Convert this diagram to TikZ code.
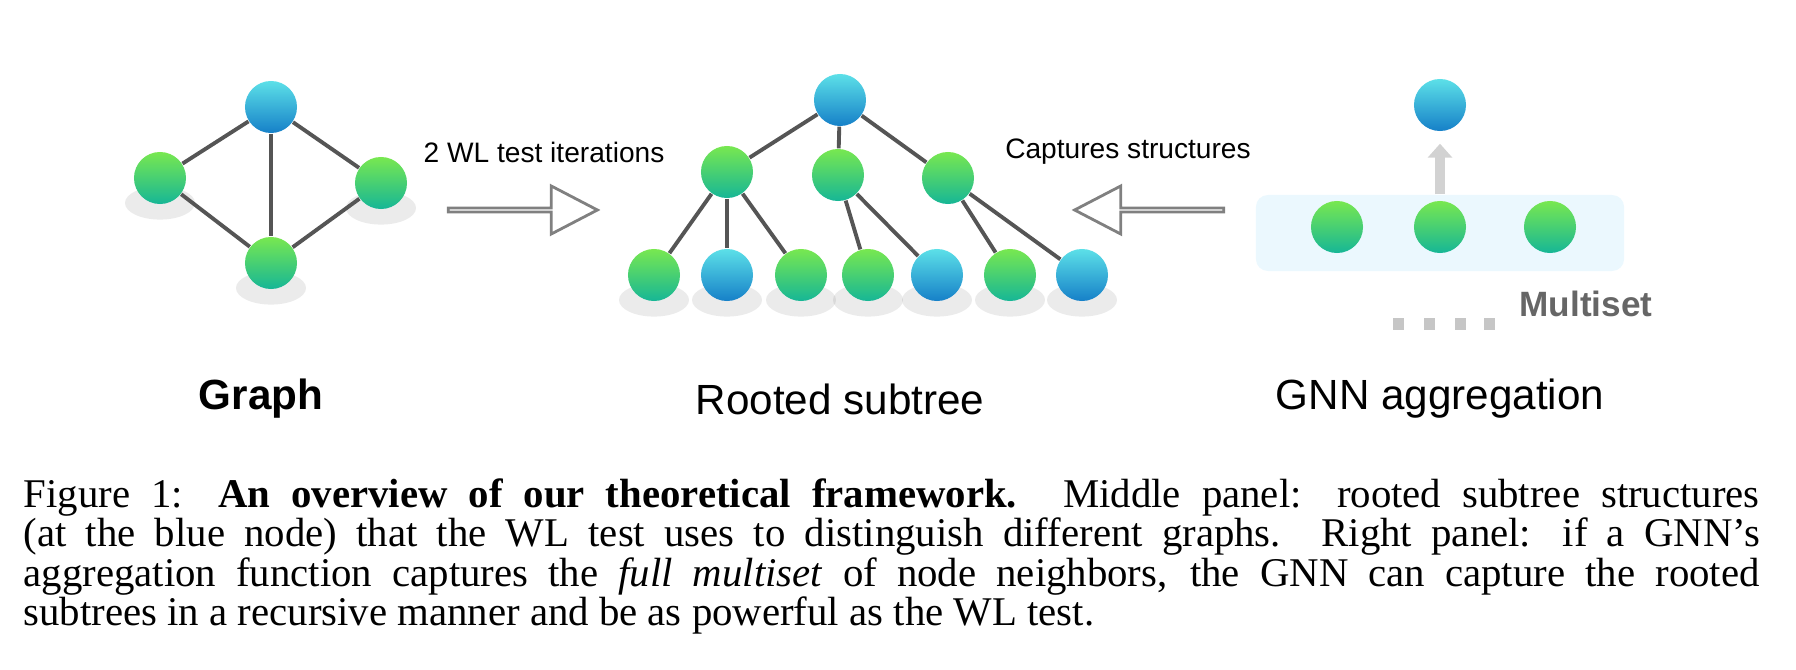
\documentclass[tikz,border=0pt]{standalone}
\usepackage{fontspec}
\setmainfont{Liberation Serif}
\newfontfamily\labelfont{Liberation Sans}
\usetikzlibrary{shapes.arrows, shapes.geometric, arrows.meta}
\definecolor{grtop}{RGB}{120,232,80}
\definecolor{grbot}{RGB}{22,182,150}
\definecolor{bltop}{RGB}{92,224,232}
\definecolor{blbot}{RGB}{22,128,200}
\definecolor{edgegray}{RGB}{85,85,85}
\tikzstyle{gnode} = [circle, minimum size=0.52cm, inner sep=0pt, top color=grtop, bottom color=grbot, draw=none]
\tikzstyle{bnode} = [circle, minimum size=0.52cm, inner sep=0pt, top color=bltop, bottom color=blbot, draw=none]
\tikzstyle{shadow} = [ellipse, minimum width=0.7cm, minimum height=0.08cm, fill=black, opacity=0.08, draw=none]
\tikzstyle{edge} = [edgegray, line width=1.1pt]
\tikzstyle{hollow} = [single arrow, draw=gray, line width=0.8pt, fill=white, minimum height=1.49cm, minimum width=0.48cm, single arrow head extend=0.16cm, single arrow tip angle=55, inner sep=0pt]
\tikzstyle{panel} = [font=\labelfont\fontsize{12pt}{14pt}\selectfont]
\tikzstyle{note} = [font=\labelfont\fontsize{8pt}{10pt}\selectfont]

\begin{document}
\begin{tikzpicture}[x=0.01cm, y=0.01cm]
  \useasboundingbox (0,0) rectangle (1796,-670);
  % soft shadows under the nodes
  \foreach \x/\y in {160/-178, 381/-183, 271/-263, 654/-275, 727/-275, 801/-275, 868/-275, 937/-275, 1010/-275, 1082/-275, 1337/-227, 1440/-227, 1550/-227}
    \node[shadow] at (\x,\y-25) {};
  % left panel: graph
  \node (gtop) [bnode] at (271,-107) {};
  \node (gleft) [gnode] at (160,-178) {};
  \node (gright) [gnode] at (381,-183) {};
  \node (gbot) [gnode] at (271,-263) {};
  \draw [edge] (gtop) -- (gleft);
  \draw [edge] (gtop) -- (gright);
  \draw [edge] (gtop) -- (gbot);
  \draw [edge] (gleft) -- (gbot);
  \draw [edge] (gright) -- (gbot);
  \node (wlarrow) [hollow] at (521,-210) {};
  \node [note] at (544,-152) {2 WL test iterations};
  % middle panel: rooted subtree
  \node (root) [bnode] at (840,-100) {};
  \node (m1) [gnode] at (727,-172) {};
  \node (m2) [gnode] at (838,-175) {};
  \node (m3) [gnode] at (948,-178) {};
  \node (l1) [gnode] at (654,-275) {};
  \node (l2) [bnode] at (727,-275) {};
  \node (l3) [gnode] at (801,-275) {};
  \node (l4) [gnode] at (868,-275) {};
  \node (l5) [bnode] at (937,-275) {};
  \node (l6) [gnode] at (1010,-275) {};
  \node (l7) [bnode] at (1082,-275) {};
  \foreach \a/\b in {root/m1, root/m2, root/m3, m1/l1, m1/l2, m1/l3, m2/l4, m2/l5, m3/l6, m3/l7}
    \draw [edge] (\a) -- (\b);
  \node (caparrow) [hollow, shape border rotate=180] at (1151,-210) {};
  \node [note] at (1128,-152) {Captures structures};
  % right panel: aggregation
  \node (box) [rounded corners=0.12cm, fill=cyan!8, minimum width=3.68cm, minimum height=0.76cm] at (1440,-233) {};
  \node (agg) [bnode] at (1440,-105) {};
  \node (n1) [gnode] at (1337,-227) {};
  \node (n2) [gnode] at (1440,-227) {};
  \node (n3) [gnode] at (1550,-227) {};
  \draw [-{Triangle[length=0.14cm, width=0.24cm]}, line width=0.1cm, gray!35] (box.north) -- ([yshift=-0.12cm]agg.south);
  \foreach \x in {1398, 1429, 1460, 1489}
    \node [fill=gray!45, minimum width=0.11cm, minimum height=0.11cm, inner sep=0pt] at (\x,-324) {};
  \node (multiset) [font=\labelfont\bfseries\fontsize{10pt}{12pt}\selectfont, text=gray!80!black] at (1586,-304) {Multiset};
  % panel names
  \node [panel, font=\labelfont\bfseries\fontsize{12pt}{14pt}\selectfont] at (261,-399) {Graph};
  \node [panel] at (840,-399) {Rooted subtree};
  \node [panel] at (1440,-399) {GNN aggregation};
  % caption
  \node (caption) [anchor=north west, text width=17.35cm, align=justify, inner sep=0pt, font=\fontsize{11.6pt}{11.2pt}\selectfont] at (23,-478) {Figure 1: \textbf{An overview of our theoretical framework.} Middle panel: rooted subtree structures\linebreak (at the blue node) that the WL test uses to distinguish different graphs. Right panel: if a GNN's\linebreak aggregation function captures the \textit{full multiset} of node neighbors, the GNN can capture the rooted\linebreak subtrees in a recursive manner and be as powerful as the WL test.};
\end{tikzpicture}
\end{document}
